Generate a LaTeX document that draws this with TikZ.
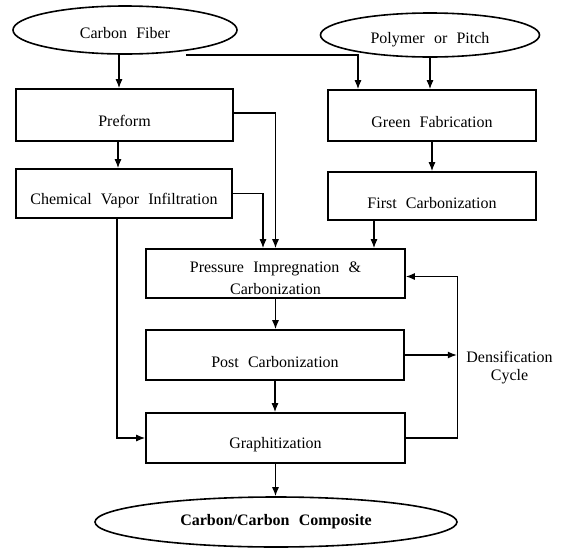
\documentclass[tikz,border=0pt]{standalone}
\usepackage{fontspec}
\setmainfont{Liberation Serif}[WordSpace=2.3]
\usetikzlibrary{shapes.geometric,arrows.meta,calc}
\newcommand\lowr[2]{\raisebox{-#1}[\height][\depth]{#2}}
\begin{document}
\begin{tikzpicture}[x=1pt,y=-1pt,
  font=\fontsize{16}{19}\selectfont,
  box/.style={draw, line width=1.6pt, rectangle, inner sep=0pt},
  oval/.style={draw, line width=1.6pt, ellipse, inner sep=0pt},
  arr/.style={line width=1.2pt, -{Latex[length=9pt,width=7pt]}}]
\useasboundingbox (0,0) rectangle (563,547);

% nodes
\node[oval, minimum width=224pt, minimum height=48pt] (cf) at (125,30) {\lowr{3pt}{Carbon Fiber}};
\node[oval, minimum width=219pt, minimum height=44pt] (pp) at (430,35) {\lowr{5pt}{Polymer or Pitch}};
\node[box, minimum width=217pt, minimum height=52pt] (pre) at (124.5,115) {\lowr{6pt}{Preform}};
\node[box, minimum width=208pt, minimum height=51pt] (gf) at (432,115.5) {\lowr{7pt}{Green Fabrication}};
\node[box, minimum width=216pt, minimum height=49pt] (cvi) at (124,193.5) {\lowr{7pt}{Chemical Vapor Infiltration}};
\node[box, minimum width=208pt, minimum height=48pt] (fc) at (432,196) {\lowr{7pt}{First Carbonization}};
\node[box, minimum width=259pt, minimum height=49pt] (pic) at (275.5,273.5)
  {\lowr{6pt}{\fontsize{16}{22}\selectfont\begin{tabular}{@{}c@{}}Pressure Impregnation \&\\ Carbonization\end{tabular}}};
\node[box, minimum width=258pt, minimum height=50pt] (post) at (275,355) {\lowr{7pt}{Post Carbonization}};
\node[box, minimum width=259pt, minimum height=50pt] (gr) at (275.5,438) {\lowr{7pt}{Graphitization}};
\node[oval, minimum width=362pt, minimum height=50pt, font=\fontsize{16}{19}\selectfont\bfseries] (cc) at (276,522) {Carbon/Carbon Composite};
\node[align=center, inner sep=0pt, font=\fontsize{16}{18}\selectfont] (dens) at (509.5,368) {Densification\\Cycle};

\coordinate (cfo) at (186,55);

% connectors
\draw[arr] ([xshift=-6pt]cf.south) -- ([xshift=-6pt]cf.south |- pre.north);
\draw[arr] (cfo) -| ([xshift=-74pt]gf.north);
\draw[arr] (pp.south) -- (pp.south |- gf.north);
\draw[arr] ([xshift=-6.5pt]pre.south) -- ([xshift=-6.5pt]pre.south |- cvi.north);
\draw[arr] ([yshift=2pt]pre.east) -| (pic.north);
\draw[arr] (cvi.east) -| ([xshift=-12.5pt]pic.north);
\draw[arr] ([xshift=-7pt]cvi.south) |- (gr.west);
\draw[arr] (gf.south) -- (fc.north);
\draw[arr] ([xshift=-58pt]fc.south) -- ([xshift=-58pt]fc.south |- pic.north);
\draw[arr] (pic.south) -- (pic.south |- post.north);
\draw[arr] (post.south) -- (post.south |- gr.north);
\draw[arr] (gr.south) -- (gr.south |- cc.north);
\draw[arr] (post.east) -- ++(52,0);
\draw[arr] (gr.east) -- ++(52,0) |- ([yshift=-3pt]pic.east);
\end{tikzpicture}
\end{document}
